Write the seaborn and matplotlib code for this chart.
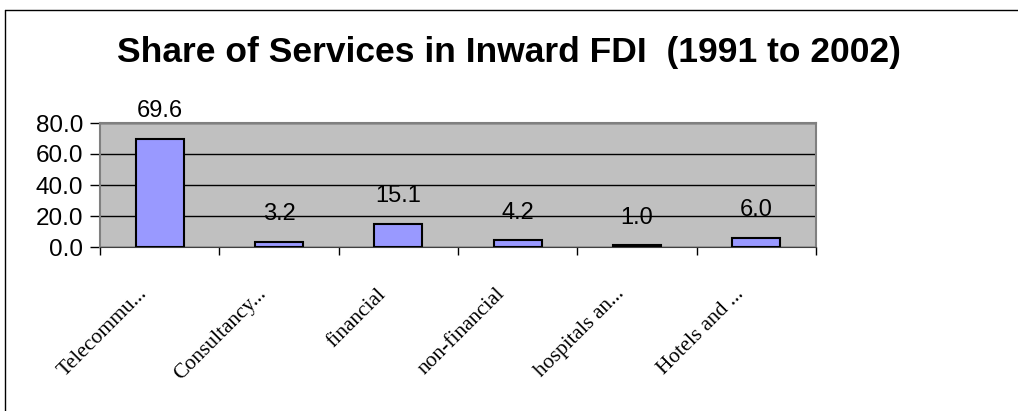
import numpy as np
import pandas as pd
import matplotlib.pyplot as plt
import seaborn as sns

sectors = ["Telecommu...", "Consultancy...", "financial", "non-financial", "hospitals an...", "Hotels and ..."]
share = [69.6, 3.2, 15.1, 4.2, 1.0, 6.0]
yticks = [0, 20, 40, 60, 80]

df = pd.DataFrame({"sector": sectors, "share": share})

sns.set_style("white")
plt.rcParams["font.family"] = ["Liberation Sans", "DejaVu Sans"]
plt.rcParams["text.color"] = "black"
plt.rcParams["xtick.color"] = "black"
plt.rcParams["ytick.color"] = "black"

fig = plt.figure(figsize=(10.18, 4.11), dpi=100)
ax = fig.add_axes([100 / 1018, 1 - 247 / 411, 716 / 1018, 124 / 411])

sns.barplot(data=df, x="sector", y="share", color="#9999FF", saturation=1,
            width=0.4, edgecolor="black", linewidth=1.5, ax=ax, zorder=3)

ax.set_facecolor("#C0C0C0")
ax.set_ylim(0, 80)
ax.set_xlim(-0.5, len(sectors) - 0.5)
ax.set_yticks(yticks)
ax.set_yticklabels([f"{v:.1f}" for v in yticks], fontsize=17.5)
ax.yaxis.grid(True, color="black", linewidth=1)
ax.set_axisbelow(True)
for s in ["top", "right", "left"]:
    ax.spines[s].set_color("#808080")
    ax.spines[s].set_linewidth(1.5)
ax.spines["bottom"].set_color("#404040")
ax.tick_params(axis="y", direction="out", length=7, width=1, left=True, pad=5)

# ticks at category boundaries
ax.set_xticks(np.arange(-0.5, len(sectors), 1.0))
ax.set_xticklabels([])
ax.tick_params(axis="x", direction="out", length=6, width=1, bottom=True)
for i, name in enumerate(sectors):
    ax.annotate(name, (i, 0), xycoords=ax.get_xaxis_transform(),
                xytext=(-16, -27), textcoords="offset points",
                rotation=45, ha="right", va="top", rotation_mode="anchor",
                fontsize=15.5, family="Liberation Serif", annotation_clip=False)

for i, v in enumerate(share):
    ax.annotate(f"{v:.1f}", (i, v), xytext=(0, 12), textcoords="offset points",
                ha="center", va="bottom", fontsize=17, annotation_clip=False)

ax.set_xlabel("")
ax.set_ylabel("")

fig.text(0.5, 1 - 52 / 411, "Share of Services in Inward FDI  (1991 to 2002)",
         ha="center", va="center", fontsize=25.5, fontweight="bold")

# outer chart frame
fig.add_artist(plt.Line2D([4.5 / 1018, 4.5 / 1018], [0, 1 - 10 / 411], color="black", linewidth=1))
fig.add_artist(plt.Line2D([4.5 / 1018, 1], [1 - 10 / 411, 1 - 10 / 411], color="black", linewidth=1))

fig.savefig("out.png", dpi=100)
